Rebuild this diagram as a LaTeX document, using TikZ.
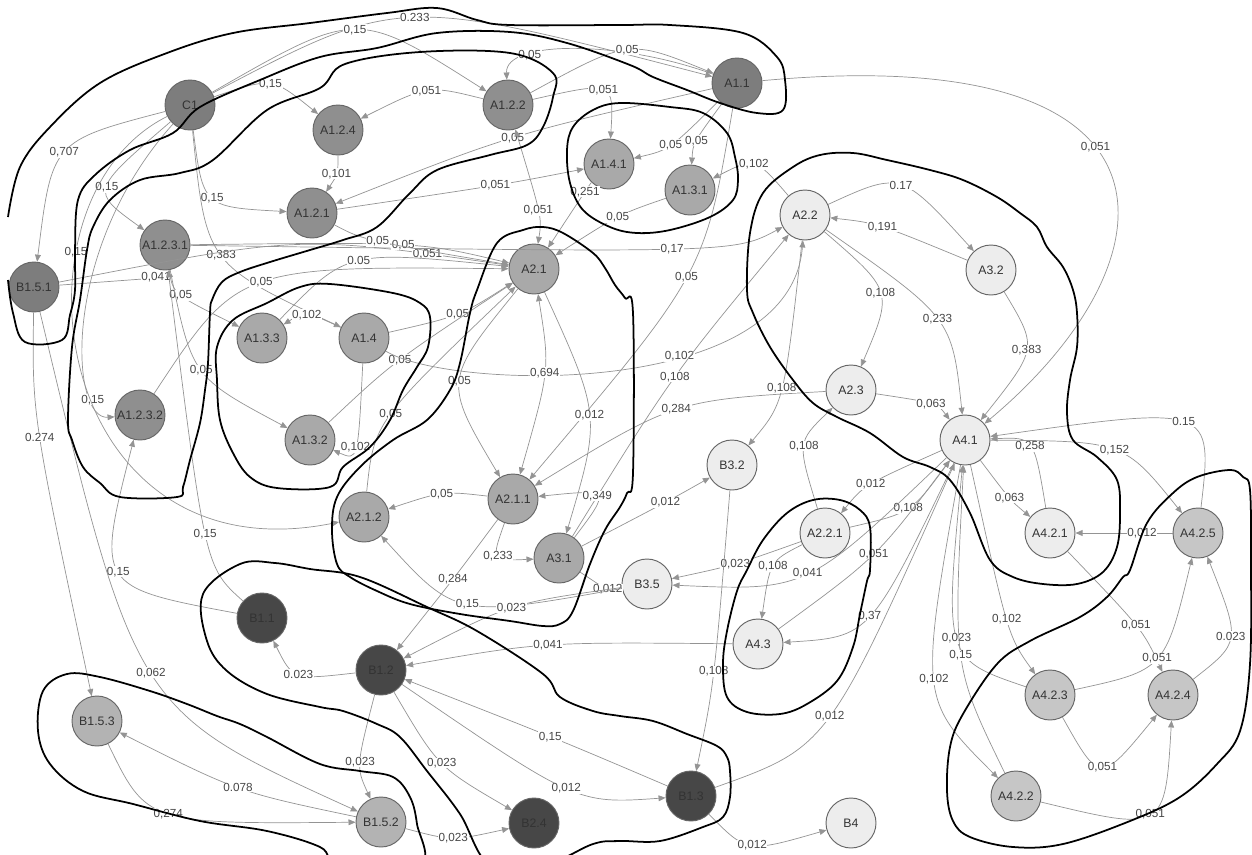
\documentclass[tikz,border=0pt]{standalone}
\usepackage{fontspec}
\setmainfont{Liberation Sans}
\usetikzlibrary{arrows.meta}
\definecolor{linkgray}{HTML}{949494}
\definecolor{toneC}{HTML}{7D7D7D}
\definecolor{toneA}{HTML}{8F8F8F}
\definecolor{toneM}{HTML}{A9A9A9}
\definecolor{toneL}{HTML}{EDEDED}
\definecolor{toneK}{HTML}{C6C6C6}
\definecolor{toneB}{HTML}{474747}
\definecolor{toneS}{HTML}{B3B3B3}
\tikzset{
      statenode/.style={
        circle,
        draw=black!60,
        line width=0.8pt,
        minimum size=1.5cm,
        inner sep=0pt,
        font=\fontsize{10.5}{12}\selectfont,
        text=black!80
      },
      link/.style={
        draw=linkgray,
        line width=0.6pt,
        ->
      },
      linkboth/.style={
        draw=linkgray,
        line width=0.6pt,
        <->
      },
      weight/.style={
        font=\fontsize{10}{12}\selectfont,
        text=black!72,
        fill=white,
        inner sep=0.5pt,
        pos=0.5
      },
      cluster/.style={
        draw=black,
        line width=1.5pt,
        line join=round
      }
    }

\begin{document}
\begin{tikzpicture}[x=0.03cm,y=-0.03cm,>={Triangle[length=6pt,width=5pt]}]
    \useasboundingbox (0,0) rectangle (1252,854);
    \node[statenode, fill=toneC] (c1) at (190,105) {C1};
    \node[statenode, fill=toneC] (a11) at (737,83) {A1.1};
    \node[statenode, fill=toneA] (a122) at (508,105) {A1.2.2};
    \node[statenode, fill=toneA] (a124) at (338,130) {A1.2.4};
    \node[statenode, fill=toneM] (a141) at (609,164) {A1.4.1};
    \node[statenode, fill=toneM] (a131) at (690,190) {A1.3.1};
    \node[statenode, fill=toneA] (a121) at (312,213) {A1.2.1};
    \node[statenode, fill=toneA] (a1231) at (165,245) {A1.2.3.1};
    \node[statenode, fill=toneC] (b151) at (34,287) {B1.5.1};
    \node[statenode, fill=toneM] (a21) at (534,269) {A2.1};
    \node[statenode, fill=toneL] (a22) at (805,215) {A2.2};
    \node[statenode, fill=toneL] (a32) at (991,270) {A3.2};
    \node[statenode, fill=toneM] (a133) at (262,338) {A1.3.3};
    \node[statenode, fill=toneM] (a14) at (364,338) {A1.4};
    \node[statenode, fill=toneA] (a1232) at (140,415) {A1.2.3.2};
    \node[statenode, fill=toneM] (a132) at (310,440) {A1.3.2};
    \node[statenode, fill=toneL] (a23) at (851,390) {A2.3};
    \node[statenode, fill=toneL] (a41) at (965,440) {A4.1};
    \node[statenode, fill=toneL] (b32) at (732,465) {B3.2};
    \node[statenode, fill=toneM] (a211) at (513,499) {A2.1.1};
    \node[statenode, fill=toneM] (a212) at (364,517) {A2.1.2};
    \node[statenode, fill=toneL] (a221) at (825,533) {A2.2.1};
    \node[statenode, fill=toneL] (a421) at (1050,533) {A4.2.1};
    \node[statenode, fill=toneK] (a425) at (1198,533) {A4.2.5};
    \node[statenode, fill=toneM] (a31) at (559,558) {A3.1};
    \node[statenode, fill=toneL] (b35) at (647,584) {B3.5};
    \node[statenode, fill=toneB] (b11) at (262,618) {B1.1};
    \node[statenode, fill=toneB] (b12) at (381,670) {B1.2};
    \node[statenode, fill=toneL] (a43) at (758,644) {A4.3};
    \node[statenode, fill=toneS] (b153) at (97,721) {B1.5.3};
    \node[statenode, fill=toneK] (a423) at (1050,695) {A4.2.3};
    \node[statenode, fill=toneK] (a424) at (1173,695) {A4.2.4};
    \node[statenode, fill=toneS] (b152) at (381,822) {B1.5.2};
    \node[statenode, fill=toneB] (b24) at (534,823) {B2.4};
    \node[statenode, fill=toneB] (b13) at (691,796) {B1.3};
    \node[statenode, fill=toneL] (b4) at (851,823) {B4};
    \node[statenode, fill=toneK] (a422) at (1016,796) {A4.2.2};

    \draw[link] (c1) .. controls (399,-5) .. (a11) node[weight] {0.233};
    \draw[link] (c1) .. controls (357,9) .. (a122) node[weight] {0,15};
    \draw[link] (c1) .. controls (272,77) .. (a124) node[weight] {0,15};
    \draw[link] (c1) .. controls (52,141) .. (b151) node[weight] {0,707};
    \draw[link] (c1) .. controls (90,191) .. (a1231) node[weight] {0,15};
    \draw[link] (c1) .. controls (203,207) .. (a121) node[weight] {0,15};
    \draw[link] (c1) .. controls (60,250) and (70,420) .. (a1232) node[weight, pos=0.8] {0,15};
    \draw[link] (c1) .. controls (0,200) and (50,580) .. (a212) node[weight, pos=0.3] {0,15};
    \draw[link] (c1) .. controls (206,264) .. (a14) node[weight] {0,383};
    \draw[link] (a11) .. controls (620,40) and (505,40) .. (a122) node[weight, pos=0.72] {0,05};
    \draw[link] (a122) .. controls (629,39) .. (a11) node[weight] {0,05};
    \draw[link] (a122) .. controls (428,85) .. (a124) node[weight] {0,051};
    \draw[link] (a122) .. controls (614,81) .. (a141) node[weight] {0,051};
    \draw[link] (a11) .. controls (509,135) .. (a121) node[weight] {0,05};
    \draw[link] (a124) .. controls (338,174) .. (a121) node[weight] {0,101};
    \draw[link] (a121) .. controls (507,184) .. (a141) node[weight] {0,051};
    \draw[link] (a141) .. controls (590,184) .. (a21) node[weight] {0,251};
    \draw[linkboth] (a122) .. controls (542,218) .. (a21) node[weight] {0,051};
    \draw[link] (a131) .. controls (620,214) .. (a21) node[weight] {0,05};
    \draw[link] (a11) .. controls (669,150) .. (a141) node[weight] {0,05};
    \draw[link] (a11) .. controls (693,143) .. (a131) node[weight] {0,05};
    \draw[link] (a22) .. controls (755,157) .. (a131) node[weight] {0,102};
    \draw[link] (a11) .. controls (705,272) .. (a211) node[weight] {0,05};
    \draw[link] (a11) .. controls (1200,40) and (1180,260) .. (a41) node[weight, pos=0.43] {0,051};

    \draw[link] (b151) .. controls (170,277) .. (a1231) node[weight] {0,041};
    \draw[link] (b151) .. controls (300,235) .. (a21) node[weight, pos=0.85] {0,051};
    \draw[link] (a1231) .. controls (734,253) .. (a22) node[weight] {0,17};
    \draw[link] (a1231) .. controls (421,242) .. (a21) node[weight] {0,05};
    \draw[link] (a121) .. controls (363,240) .. (a21) node[weight] {0,05};
    \draw[link] (a1231) .. controls (173,294) .. (a133) node[weight] {0,05};
    \draw[link] (a1231) .. controls (192,377) .. (a132) node[weight] {0,05};
    \draw[link] (a1232) .. controls (238,266) .. (a21) node[weight] {0,05};
    \draw[link] (a133) .. controls (347,250) .. (a21) node[weight] {0.05};
    \draw[link] (a14) .. controls (460,316) .. (a21) node[weight] {0,05};
    \draw[link] (a132) .. controls (393,362) .. (a21) node[weight] {0,05};
    \draw[link] (a212) .. controls (374,422) .. (a21) node[weight] {0,05};
    \draw[link] (a14) .. controls (305,311) .. (a133) node[weight] {0,102};
    \draw[link] (a14) .. controls (358,461) .. (a132) node[weight] {0,102};
    \draw[link] (a14) .. controls (450,390) and (790,400) .. (a22) node[weight, pos=0.62] {0,102};

    \draw[linkboth] (a21) .. controls (550,369) .. (a211) node[weight] {0,694};
    \draw[link] (a21) .. controls (443,381) .. (a211) node[weight] {0,05};
    \draw[link] (a21) .. controls (601,416) .. (a31) node[weight] {0,012};
    \draw[link] (a31) .. controls (673,374) .. (a22) node[weight] {0,108};
    \draw[link] (a23) .. controls (675,400) .. (a211) node[weight] {0,284};
    \draw[link] (a22) .. controls (784,403) .. (b32) node[weight] {0,108};
    \draw[link] (a31) .. controls (611,489) .. (a211) node[weight] {0,349};
    \draw[link] (a211) .. controls (443,491) .. (a212) node[weight] {0,05};
    \draw[link] (a211) .. controls (491,561) .. (a31) node[weight] {0,233};
    \draw[link] (a31) .. controls (672,499) .. (b32) node[weight] {0,012};
    \draw[link] (a31) .. controls (610,592) .. (b35) node[weight] {0,012};

    \draw[link] (a22) .. controls (901,171) .. (a32) node[weight] {0.17};
    \draw[link] (a32) .. controls (877,223) .. (a22) node[weight] {0,191};
    \draw[link] (a22) .. controls (893,291) .. (a23) node[weight] {0,108};
    \draw[link] (a22) .. controls (952,318) .. (a41) node[weight] {0,233};
    \draw[link] (a32) .. controls (1038,348) .. (a41) node[weight] {0,383};
    \draw[link] (a23) .. controls (937,403) .. (a41) node[weight] {0,063};
    \draw[link] (a221) .. controls (797,442) .. (a23) node[weight] {0,108};
    \draw[link] (a425) .. controls (1213,405) .. (a41) node[weight] {0.15};
    \draw[link] (a421) .. controls (1034,437) .. (a41) node[weight] {0,258};
    \draw[link] (a41) .. controls (1124,441) .. (a425) node[weight] {0,152};
    \draw[link] (a41) .. controls (1011,501) .. (a421) node[weight] {0,063};
    \draw[link] (a41) .. controls (864,485) .. (a221) node[weight] {0,012};
    \draw[link] (a221) .. controls (911,513) .. (a41) node[weight] {0,108};
    \draw[link] (a425) .. controls (1148,533) .. (a421) node[weight] {0,012};

    \draw[link] (a221) .. controls (735,565) .. (b35) node[weight] {0,023};
    \draw[link] (a221) .. controls (770,561) .. (a43) node[weight] {0,108};
    \draw[link] (a41) .. controls (807,591) .. (b35) node[weight] {0,041};
    \draw[link] (a43) .. controls (877,557) .. (a41) node[weight] {0,051};
    \draw[link] (a41) .. controls (870,637) .. (a43) node[weight] {0,37};
    \draw[link] (b35) .. controls (456,618) .. (a212) node[weight] {0,15};
    \draw[link] (b35) .. controls (511,603) .. (b12) node[weight] {0,023};
    \draw[link] (a211) .. controls (455,577) .. (b12) node[weight] {0,284};
    \draw[link] (a43) .. controls (541,642) .. (b12) node[weight] {0,041};
    \draw[link] (b13) .. controls (555,738) .. (b12) node[weight] {0,15};
    \draw[link] (b12) .. controls (577,804) .. (b13) node[weight] {0,012};
    \draw[link] (b12) .. controls (438,767) .. (b24) node[weight] {0,023};
    \draw[link] (b12) .. controls (356,767) .. (b152) node[weight] {0,023};
    \draw[link] (b152) .. controls (452,841) .. (b24) node[weight] {0,023};
    \draw[link] (b12) .. controls (293,680) .. (b11) node[weight] {0.023};
    \draw[link] (b11) .. controls (96,587) .. (a1232) node[weight] {0,15};
    \draw[link] (b11) .. controls (205,567) .. (a1231) node[weight] {0,15};
    \draw[link] (b151) .. controls (32,415) .. (b153) node[weight] {0.274};
    \draw[link] (b151) .. controls (135,710) .. (b152) node[weight] {0,062};
    \draw[link] (b152) .. controls (238,792) .. (b153) node[weight] {0.078};
    \draw[link] (b153) .. controls (147,824) .. (b152) node[weight] {0,274};
    \draw[link] (b32) .. controls (714,685) .. (b13) node[weight] {0,108};
    \draw[link] (b13) .. controls (828,747) .. (a41) node[weight] {0,012};
    \draw[link] (b13) .. controls (747,853) .. (b4) node[weight] {0,012};

    \draw[link] (a41) .. controls (1008,636) .. (a423) node[weight] {0,102};
    \draw[link] (a423) .. controls (944,659) .. (a41) node[weight] {0,023};
    \draw[link] (a422) .. controls (953,667) .. (a41) node[weight] {0,15};
    \draw[link] (a41) .. controls (919,699) .. (a422) node[weight] {0,102};
    \draw[link] (a421) .. controls (1143,630) .. (a424) node[weight] {0,051};
    \draw[link] (a423) .. controls (1165,670) .. (a425) node[weight] {0,051};
    \draw[link] (a424) .. controls (1241,642) .. (a425) node[weight] {0.023};
    \draw[link] (a423) .. controls (1100,784) .. (a424) node[weight] {0,051};
    \draw[link] (a422) .. controls (1165,832) .. (a424) node[weight] {0,051};

    \draw[cluster] plot[smooth, tension=0.6] coordinates {(8,217) (20,167) (50,127) (100,83) (167,53) (233,33) (310,23) (387,13) (437,8) (477,20) (510,25) (620,25) (670,25) (743,33) (777,57) (785,80) (783,110) (757,113) (720,103) (687,90) (653,77) (630,65) (567,43) (510,32) (437,33) (377,48) (320,57) (260,80) (200,107) (173,133) (130,150) (95,175) (78,200) (75,250) (75,290) (70,315) (62,340) (25,342) (13,313) (8,280)};
    \draw[cluster] plot[smooth cycle, tension=0.6] coordinates {(267,110) (320,88) (345,64) (420,52) (510,53) (553,73) (553,97) (543,127) (527,145) (490,155) (437,170) (410,193) (377,227) (343,240) (310,250) (270,262) (240,272) (222,282) (212,300) (210,313) (208,363) (205,390) (200,423) (190,460) (183,487) (177,497) (120,497) (100,483) (83,467) (72,440) (68,420) (72,347) (80,300) (87,250) (93,227) (110,200) (140,180) (180,173) (213,160)};
    \draw[cluster] plot[smooth cycle, tension=0.6] coordinates {(233,320) (267,303) (300,287) (330,284) (393,293) (420,303) (430,317) (428,347) (417,367) (403,390) (390,420) (370,447) (343,467) (330,487) (277,488) (250,477) (233,453) (220,420) (217,380) (217,347)};
    \draw[cluster] plot[smooth cycle, tension=0.6] coordinates {(477,290) (470,313) (460,363) (450,390) (427,420) (393,440) (360,467) (337,497) (332,530) (337,564) (350,577) (377,591) (410,604) (460,614) (510,621) (543,626) (560,624) (573,611) (590,564) (605,530) (620,507) (627,493) (633,473) (633,313) (625,298) (615,285) (605,268) (593,253) (563,233) (543,227) (523,230) (497,243)};
    \draw[cluster] plot[smooth cycle, tension=0.6] coordinates {(240,564) (203,594) (207,641) (227,671) (267,694) (320,707) (343,711) (377,724) (400,737) (427,771) (460,814) (490,865) (545,865) (593,844) (620,841) (660,841) (703,827) (723,817) (730,797) (730,771) (727,757) (717,746) (687,734) (653,721) (620,716) (593,711) (560,697) (543,674) (477,631) (427,607) (360,577) (310,569) (275,563)};
    \draw[cluster] plot[smooth cycle, tension=0.6] coordinates {(67,674) (100,677) (150,691) (187,704) (217,716) (240,724) (267,737) (320,764) (360,771) (393,777) (410,797) (417,824) (420,865) (340,865) (320,847) (267,831) (200,821) (133,804) (83,791) (50,764) (38,731) (43,691)};
    \draw[cluster] plot[smooth cycle, tension=0.6] coordinates {(620,103) (670,107) (703,113) (727,133) (735,157) (738,180) (733,200) (710,217) (670,230) (637,233) (610,227) (583,210) (570,183) (567,150) (573,127) (593,110)};
    \draw[cluster] plot[smooth cycle, tension=0.6] coordinates {(747,290) (750,233) (763,193) (793,167) (820,155) (853,153) (887,160) (930,170) (963,180) (997,197) (1020,213) (1037,227) (1047,247) (1063,267) (1073,290) (1077,313) (1077,347) (1070,380) (1067,413) (1073,440) (1097,457) (1117,480) (1120,513) (1117,547) (1103,572) (1077,584) (1043,584) (1013,577) (990,560) (970,513) (950,480) (930,467) (903,457) (870,433) (837,417) (813,403) (793,380) (770,347) (753,313)};
    \draw[cluster] plot[smooth cycle, tension=0.6] coordinates {(747,570) (763,540) (787,513) (813,500) (840,500) (860,510) (870,527) (870,570) (867,581) (860,614) (853,647) (837,681) (807,704) (780,714) (747,712) (727,697) (723,664) (727,631) (737,591)};
    \draw[cluster] plot[smooth cycle, tension=0.6] coordinates {(1130,570) (1147,523) (1173,493) (1197,477) (1230,470) (1243,477) (1250,490) (1251,564) (1250,664) (1240,731) (1217,764) (1180,797) (1130,821) (1063,844) (1013,847) (970,837) (953,821) (947,791) (950,747) (963,714) (997,664) (1030,641) (1080,617) (1107,597) (1123,577)};
    \end{tikzpicture}
\end{document}
